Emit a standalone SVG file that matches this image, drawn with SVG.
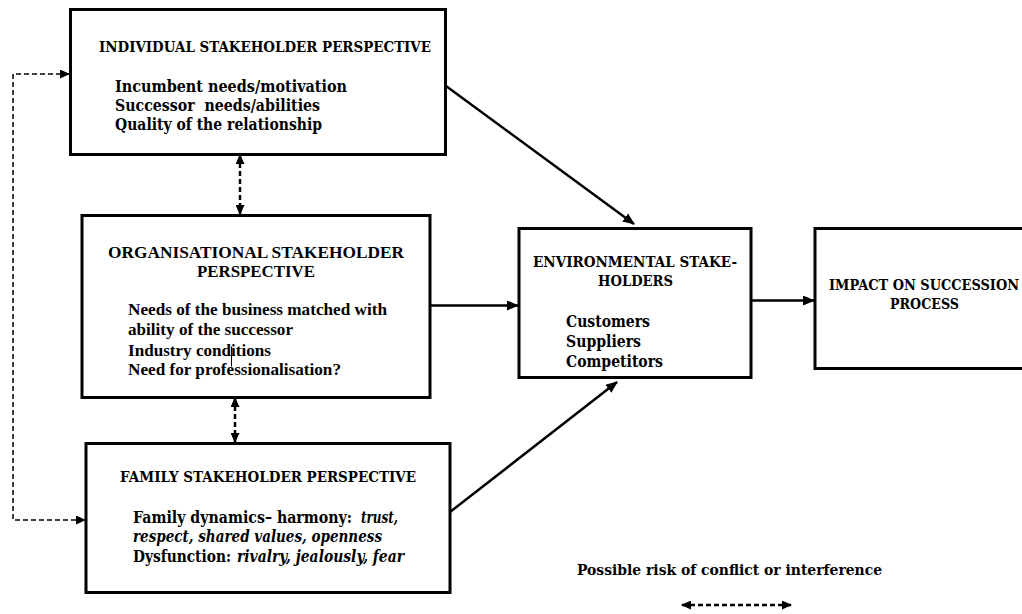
<svg xmlns="http://www.w3.org/2000/svg" width="1022" height="614" viewBox="0 0 1022 614">
<style>
.box{fill:#fff;stroke:#000;stroke-width:3}
.t{font-family:'DejaVu Serif','Noto Serif',serif;font-weight:bold;fill:#000}
.tr{font-family:'Liberation Serif','Times New Roman',Times,serif;font-weight:bold;fill:#000;font-size:17px}
.ttl{font-size:15px}
.bd{font-size:16px}
.it{font-style:italic}
.arr{fill:none;stroke:#000;stroke-width:2.5}
.dash{fill:none;stroke:#000;stroke-width:2.5;stroke-dasharray:5 3}
.dthin{fill:none;stroke:#000;stroke-width:1.5;stroke-dasharray:5 3}
</style>
<defs>
<marker id="ah" markerUnits="userSpaceOnUse" markerWidth="12" markerHeight="10" refX="11" refY="5" orient="auto-start-reverse">
<path d="M0,0 L12,5 L0,10 Z" fill="#000"/>
</marker>
<marker id="ahs" markerUnits="userSpaceOnUse" markerWidth="10" markerHeight="9" refX="9" refY="4.5" orient="auto-start-reverse">
<path d="M0,0 L10,4.5 L0,9 Z" fill="#000"/>
</marker>
</defs>
<g id="connectors">
<line class="arr" x1="446" y1="86" x2="634" y2="224" marker-end="url(#ah)"/>
<line class="arr" x1="450" y1="512" x2="617" y2="382" marker-end="url(#ah)"/>
<line class="arr" x1="430" y1="305.5" x2="518" y2="305.5" marker-end="url(#ah)"/>
<line class="arr" x1="751" y1="300.5" x2="814" y2="300.5" marker-end="url(#ah)"/>
<line class="dash" x1="240" y1="155" x2="240" y2="214" marker-start="url(#ahs)" marker-end="url(#ahs)"/>
<line class="dash" x1="235" y1="398" x2="235" y2="442" marker-start="url(#ahs)" marker-end="url(#ahs)"/>
<polyline class="dthin" points="69,74 13,74 13,520 85,520" marker-start="url(#ahs)" marker-end="url(#ahs)"/>
<line class="dash" x1="682" y1="605" x2="791" y2="605" marker-start="url(#ahs)" marker-end="url(#ahs)"/>
</g>
<g id="individual">
<rect class="box" x="70.5" y="9.5" width="375" height="145"/>
<text class="t ttl" x="99" y="52" textLength="332" lengthAdjust="spacingAndGlyphs">INDIVIDUAL STAKEHOLDER PERSPECTIVE</text>
<text class="t bd" x="115" y="91.5" textLength="232" lengthAdjust="spacingAndGlyphs">Incumbent needs/motivation</text>
<text class="t bd" x="115" y="111" textLength="205" lengthAdjust="spacingAndGlyphs" xml:space="preserve">Successor  needs/abilities</text>
<text class="t bd" x="115" y="130" textLength="207" lengthAdjust="spacingAndGlyphs">Quality of the relationship</text>
</g>
<g id="organisational">
<rect class="box" x="82" y="215.5" width="348" height="182"/>
<text class="tr" x="108" y="258" textLength="296" lengthAdjust="spacingAndGlyphs">ORGANISATIONAL STAKEHOLDER</text>
<text class="tr" x="197" y="277" textLength="118" lengthAdjust="spacingAndGlyphs">PERSPECTIVE</text>
<text class="tr" x="128" y="315" textLength="259" lengthAdjust="spacingAndGlyphs">Needs of the business matched with</text>
<text class="tr" x="128" y="335" textLength="165" lengthAdjust="spacingAndGlyphs">ability of the successor</text>
<text class="tr" x="128" y="355.5" textLength="143" lengthAdjust="spacingAndGlyphs">Industry conditions</text>
<text class="tr" x="128" y="375" textLength="213" lengthAdjust="spacingAndGlyphs">Need for professionalisation?</text>
<line x1="231.5" y1="346.5" x2="231.5" y2="366.5" stroke="#000" stroke-width="1"/>
</g>
<g id="family">
<rect class="box" x="86" y="443.5" width="364" height="149"/>
<text class="t ttl" x="120" y="481.5" textLength="296" lengthAdjust="spacingAndGlyphs">FAMILY STAKEHOLDER PERSPECTIVE</text>
<text class="t bd" x="133" y="522.5" textLength="219" lengthAdjust="spacingAndGlyphs">Family dynamics– harmony:</text>
<text class="t bd it" x="361" y="522.5" textLength="37" lengthAdjust="spacingAndGlyphs">trust,</text>
<text class="t bd it" x="133" y="541.7" textLength="249" lengthAdjust="spacingAndGlyphs">respect, shared values, openness</text>
<text class="t bd" x="133" y="561.5" textLength="98" lengthAdjust="spacingAndGlyphs">Dysfunction:</text>
<text class="t bd it" x="237" y="561.5" textLength="167" lengthAdjust="spacingAndGlyphs">rivalry, jealously, fear</text>
</g>
<g id="environmental">
<rect class="box" x="519" y="228.5" width="232" height="149"/>
<text class="t ttl" x="533" y="266.5" textLength="204" lengthAdjust="spacingAndGlyphs">ENVIRONMENTAL STAKE-</text>
<text class="t ttl" x="598" y="286" textLength="75" lengthAdjust="spacingAndGlyphs">HOLDERS</text>
<text class="t bd" x="566" y="326.5" textLength="84" lengthAdjust="spacingAndGlyphs">Customers</text>
<text class="t bd" x="566" y="346.5" textLength="75" lengthAdjust="spacingAndGlyphs">Suppliers</text>
<text class="t bd" x="566" y="366.5" textLength="97" lengthAdjust="spacingAndGlyphs">Competitors</text>
</g>
<g id="impact">
<rect class="box" x="815" y="228.5" width="230" height="140"/>
<text class="t ttl" x="829" y="290" textLength="190" lengthAdjust="spacingAndGlyphs">IMPACT ON SUCCESSION</text>
<text class="t ttl" x="890" y="309" textLength="69" lengthAdjust="spacingAndGlyphs">PROCESS</text>
</g>
<g id="legend">
<text class="t ttl" x="577" y="575" textLength="305" lengthAdjust="spacingAndGlyphs">Possible risk of conflict or interference</text>
</g>
</svg>
